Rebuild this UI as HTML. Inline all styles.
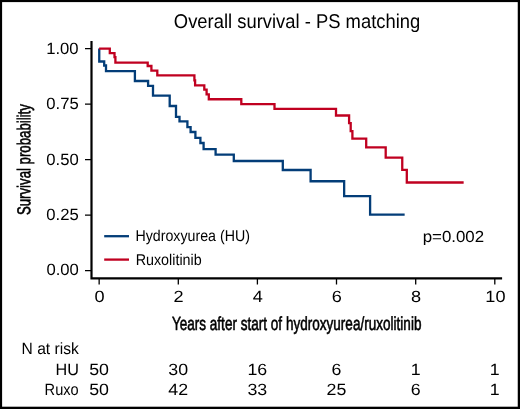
<!DOCTYPE html>
<html>
<head>
<meta charset="utf-8">
<style>
html,body{margin:0;padding:0;background:#fff;}
body{width:520px;height:409px;overflow:hidden;}
svg{display:block;}
text{font-family:"Liberation Sans",sans-serif;fill:#000;filter:grayscale(1);}
</style>
</head>
<body>
<svg width="520" height="409" viewBox="0 0 520 409">
<rect x="0" y="0" width="520" height="409" fill="#fff"/>
<g fill="#000"><rect x="0" y="0" width="520" height="2.1"/><rect x="0" y="0" width="2.1" height="409"/><rect x="517.75" y="0" width="2.25" height="409"/><rect x="0" y="406.7" width="520" height="2.3"/></g>
<g stroke="#000" fill="none">
<path d="M91.5 41.0 V278.4 H502.1" stroke-width="2.2"/>
<path d="M85 48.6 H91.5 M85 104.1 H91.5 M85 159.6 H91.5 M85 215.1 H91.5 M85 270.55 H91.5" stroke-width="1.3"/>
<path d="M99.15 278.4 V284.6 M178.3 278.4 V284.6 M257.4 278.4 V284.6 M336.5 278.4 V284.6 M415.7 278.4 V284.6 M494.8 278.4 V284.6" stroke-width="1.3"/>
</g>
<g fill="none" stroke-width="2.3" stroke-linejoin="miter" stroke-linecap="butt">
<path stroke="#033d78" d="M99.25 48.6 V61.5 H104.2 V65.5 H106 V71.1 H134.9 V81 H148.1 V85.9 H153 V95.7 H169.7 V106 H176 V116.8 H179.5 V121.3 H187.4 V127.1 H190.6 V132 H195.4 V137.8 H200.4 V143 H203.6 V149.2 H215.6 V154.65 H233.8 V161 H282.8 V170 H310.6 V181.25 H344.15 V196.2 H370.1 V214.7 H404.65"/>
<path stroke="#c00020" d="M99.1 48.6 H109.8 V53.1 H114.5 V57.2 H115.4 V62.6 H147.7 V66 H151.4 V70.6 H157.3 V75.35 H194.4 V80.4 H195.1 V85.4 H204.3 V89.6 H206.6 V94.4 H208.8 V99.25 H241.3 V104.2 H274.5 V108.9 H336 V115.5 H349.1 V123.2 H350.7 V131.1 H352.4 V138.6 H366.2 V147.4 H385.7 V157.6 H402.25 V169.8 H406.8 V182.5 H463.65"/>
</g>
<g stroke-width="2.3">
<line x1="104.2" y1="236.2" x2="129" y2="236.2" stroke="#033d78"/>
<line x1="104.2" y1="259.6" x2="129" y2="259.6" stroke="#c00020"/>
</g>
<g transform="matrix(1 0 0.001 1 0 0)">
<text x="297.02" y="28.00" font-size="19.90" text-anchor="middle" textLength="246.41" lengthAdjust="spacingAndGlyphs">Overall survival - PS matching</text>
<text transform="translate(30.10 159.63) rotate(-90)" font-size="18.60" stroke="#000" stroke-width="0.6" text-anchor="middle" textLength="110.93" lengthAdjust="spacingAndGlyphs">Survival probability</text>
<text x="296.35" y="329.60" font-size="19.00" stroke="#000" stroke-width="0.6" text-anchor="middle" textLength="249.54" lengthAdjust="spacingAndGlyphs">Years after start of hydroxyurea/ruxolitinib</text>
<text x="78.60" y="275.50" font-size="16.30" text-anchor="end" textLength="32.46" lengthAdjust="spacingAndGlyphs">0.00</text>
<text x="78.60" y="53.55" font-size="16.30" text-anchor="end" textLength="32.46" lengthAdjust="spacingAndGlyphs">1.00</text>
<text x="78.60" y="109.05" font-size="16.30" text-anchor="end" textLength="32.46" lengthAdjust="spacingAndGlyphs">0.75</text>
<text x="78.60" y="164.55" font-size="16.30" text-anchor="end" textLength="32.46" lengthAdjust="spacingAndGlyphs">0.50</text>
<text x="78.60" y="220.05" font-size="16.30" text-anchor="end" textLength="32.46" lengthAdjust="spacingAndGlyphs">0.25</text>
<text x="99.20" y="302.50" font-size="16.30" text-anchor="middle" textLength="10.11" lengthAdjust="spacingAndGlyphs">0</text>
<text x="178.35" y="302.50" font-size="16.30" text-anchor="middle" textLength="10.11" lengthAdjust="spacingAndGlyphs">2</text>
<text x="257.45" y="302.50" font-size="16.30" text-anchor="middle" textLength="10.11" lengthAdjust="spacingAndGlyphs">4</text>
<text x="336.55" y="302.50" font-size="16.30" text-anchor="middle" textLength="10.11" lengthAdjust="spacingAndGlyphs">6</text>
<text x="415.75" y="302.50" font-size="16.30" text-anchor="middle" textLength="10.11" lengthAdjust="spacingAndGlyphs">8</text>
<text x="495.15" y="302.50" font-size="16.30" text-anchor="middle" textLength="20.21" lengthAdjust="spacingAndGlyphs">10</text>
<text x="135.21" y="241.50" font-size="15.70" textLength="114.52" lengthAdjust="spacingAndGlyphs">Hydroxyurea (HU)</text>
<text x="135.37" y="264.90" font-size="15.70" textLength="66.12" lengthAdjust="spacingAndGlyphs">Ruxolitinib</text>
<text x="483.90" y="241.95" font-size="16.10" text-anchor="end" textLength="61.46" lengthAdjust="spacingAndGlyphs">p=0.002</text>
<text x="21.18" y="354.00" font-size="16.30" textLength="57.24" lengthAdjust="spacingAndGlyphs">N at risk</text>
<text x="78.52" y="375.20" font-size="16.30" text-anchor="end" textLength="23.45" lengthAdjust="spacingAndGlyphs">HU</text>
<text x="78.30" y="395.40" font-size="16.30" text-anchor="end" textLength="34.07" lengthAdjust="spacingAndGlyphs">Ruxo</text>
<text x="98.69" y="375.20" font-size="16.30" text-anchor="middle" textLength="19.83" lengthAdjust="spacingAndGlyphs">50</text>
<text x="177.84" y="375.20" font-size="16.30" text-anchor="middle" textLength="19.83" lengthAdjust="spacingAndGlyphs">30</text>
<text x="256.94" y="375.20" font-size="16.30" text-anchor="middle" textLength="19.83" lengthAdjust="spacingAndGlyphs">16</text>
<text x="336.04" y="375.20" font-size="16.30" text-anchor="middle" textLength="9.92" lengthAdjust="spacingAndGlyphs">6</text>
<text x="415.24" y="375.20" font-size="16.30" text-anchor="middle" textLength="9.92" lengthAdjust="spacingAndGlyphs">1</text>
<text x="494.34" y="375.20" font-size="16.30" text-anchor="middle" textLength="9.92" lengthAdjust="spacingAndGlyphs">1</text>
<text x="98.69" y="395.40" font-size="16.30" text-anchor="middle" textLength="19.83" lengthAdjust="spacingAndGlyphs">50</text>
<text x="177.84" y="395.40" font-size="16.30" text-anchor="middle" textLength="19.83" lengthAdjust="spacingAndGlyphs">42</text>
<text x="256.94" y="395.40" font-size="16.30" text-anchor="middle" textLength="19.83" lengthAdjust="spacingAndGlyphs">33</text>
<text x="336.04" y="395.40" font-size="16.30" text-anchor="middle" textLength="19.83" lengthAdjust="spacingAndGlyphs">25</text>
<text x="415.24" y="395.40" font-size="16.30" text-anchor="middle" textLength="9.92" lengthAdjust="spacingAndGlyphs">6</text>
<text x="494.34" y="395.40" font-size="16.30" text-anchor="middle" textLength="9.92" lengthAdjust="spacingAndGlyphs">1</text>
</g>
</svg>
</body>
</html>
